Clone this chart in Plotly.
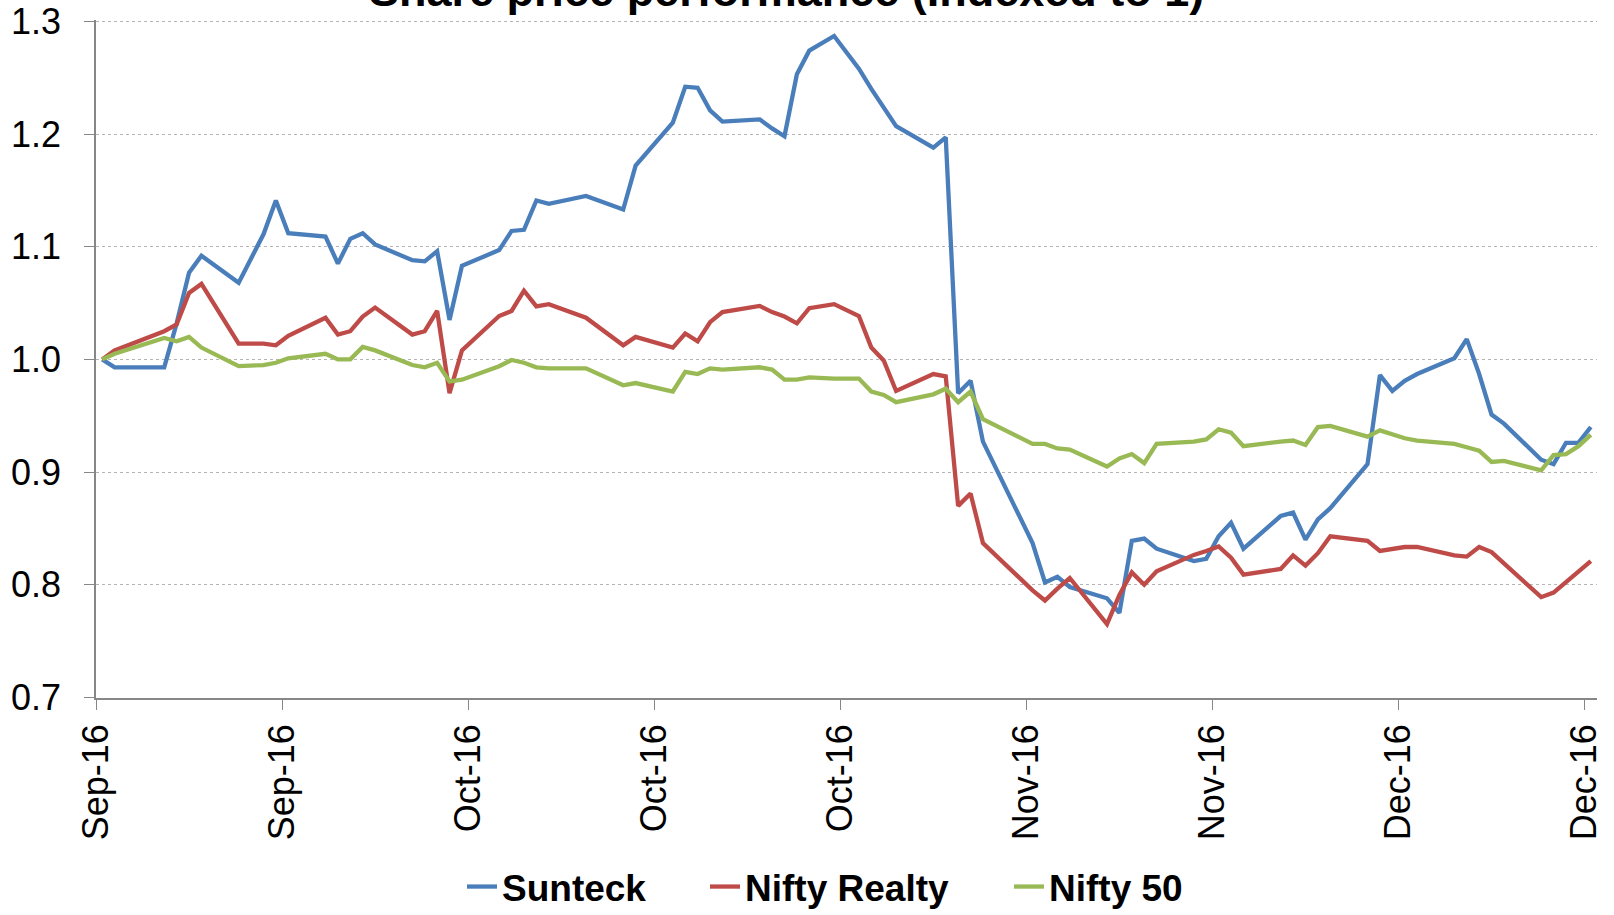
import pandas as pd
import plotly.graph_objects as go

# ---- data ----
dates = [
    "2016-09-01", "2016-09-02", "2016-09-06", "2016-09-07", "2016-09-08", "2016-09-09", "2016-09-12",
    "2016-09-14", "2016-09-15", "2016-09-16", "2016-09-19", "2016-09-20", "2016-09-21", "2016-09-22",
    "2016-09-23", "2016-09-26", "2016-09-27", "2016-09-28", "2016-09-29", "2016-09-30",
    "2016-10-03", "2016-10-04", "2016-10-05", "2016-10-06", "2016-10-07", "2016-10-10", "2016-10-13",
    "2016-10-14", "2016-10-17", "2016-10-18", "2016-10-19", "2016-10-20", "2016-10-21", "2016-10-24",
    "2016-10-25", "2016-10-26", "2016-10-27", "2016-10-28", "2016-10-30",
    "2016-11-01", "2016-11-02", "2016-11-03", "2016-11-04", "2016-11-07", "2016-11-08", "2016-11-09",
    "2016-11-10", "2016-11-11", "2016-11-15", "2016-11-16", "2016-11-17", "2016-11-18", "2016-11-21",
    "2016-11-22", "2016-11-23", "2016-11-24", "2016-11-25", "2016-11-28", "2016-11-29", "2016-11-30",
    "2016-12-01", "2016-12-02", "2016-12-05", "2016-12-06", "2016-12-07", "2016-12-08", "2016-12-09",
    "2016-12-12", "2016-12-13", "2016-12-14", "2016-12-15", "2016-12-16", "2016-12-19", "2016-12-20",
    "2016-12-21", "2016-12-22", "2016-12-23", "2016-12-26", "2016-12-27", "2016-12-28", "2016-12-29",
    "2016-12-30",
]

sunteck = [
    1.000, 0.993, 0.993, 1.032, 1.077, 1.092, 1.068, 1.111, 1.141, 1.112, 1.109, 1.085, 1.107, 1.112,
    1.102, 1.088, 1.087, 1.096, 1.035, 1.083,
    1.097, 1.114, 1.115, 1.141, 1.138, 1.145, 1.133, 1.172, 1.210, 1.242, 1.241, 1.221, 1.211, 1.213,
    1.205, 1.198, 1.253, 1.274, 1.287,
    1.258, 1.240, 1.223, 1.207, 1.188, 1.197, 0.970, 0.981, 0.927, 0.837, 0.802, 0.807, 0.798, 0.788,
    0.775, 0.839, 0.841, 0.832, 0.821, 0.823, 0.843,
    0.855, 0.832, 0.861, 0.864, 0.840, 0.858, 0.868, 0.907, 0.986, 0.972, 0.981, 0.987, 1.001, 1.018,
    0.987, 0.951, 0.943, 0.911, 0.907, 0.926, 0.926, 0.940,
]

nifty_realty = [
    1.000, 1.008, 1.025, 1.031, 1.059, 1.067, 1.014, 1.014, 1.0125, 1.021, 1.037, 1.022, 1.025, 1.038,
    1.046, 1.022, 1.025, 1.043, 0.970, 1.008,
    1.0385, 1.043, 1.061, 1.047, 1.049, 1.037, 1.0125, 1.020, 1.0105, 1.023, 1.016, 1.033, 1.042,
    1.0475, 1.042, 1.038, 1.032, 1.0455, 1.049,
    1.0385, 1.0105, 0.999, 0.972, 0.987, 0.985, 0.870, 0.881, 0.837, 0.795, 0.786, 0.7965, 0.806,
    0.765, 0.791, 0.811, 0.800, 0.812, 0.8265, 0.830, 0.834,
    0.824, 0.809, 0.814, 0.826, 0.817, 0.828, 0.843, 0.839, 0.830, 0.832, 0.8335, 0.8335, 0.826,
    0.825, 0.8335, 0.829, 0.819, 0.789, 0.793, 0.802, 0.811, 0.821,
]

nifty_50 = [
    1.000, 1.005, 1.019, 1.016, 1.020, 1.0105, 0.994, 0.995, 0.997, 1.001, 1.005, 1.000, 1.000, 1.011,
    1.008, 0.995, 0.993, 0.997, 0.9805, 0.982,
    0.994, 0.9995, 0.997, 0.993, 0.992, 0.992, 0.977, 0.979, 0.9715, 0.989, 0.987, 0.992, 0.991,
    0.993, 0.991, 0.982, 0.982, 0.984, 0.983,
    0.983, 0.9715, 0.9685, 0.962, 0.969, 0.974, 0.962, 0.9715, 0.947, 0.925, 0.925, 0.921, 0.920,
    0.905, 0.912, 0.916, 0.908, 0.925, 0.927, 0.929, 0.938,
    0.935, 0.923, 0.927, 0.928, 0.924, 0.940, 0.941, 0.9315, 0.937, 0.933, 0.930, 0.928, 0.925,
    0.922, 0.919, 0.909, 0.910, 0.9015, 0.915, 0.916, 0.923, 0.933,
]

series_names = ["Sunteck", "Nifty Realty", "Nifty 50"]
tick_dates = ["2016-09-01", "2016-09-16", "2016-10-01", "2016-10-16", "2016-10-31",
              "2016-11-15", "2016-11-30", "2016-12-15", "2016-12-30"]
tick_labels = ["Sep-16", "Sep-16", "Oct-16", "Oct-16", "Oct-16", "Nov-16", "Nov-16", "Dec-16", "Dec-16"]
y_ticks = [0.7, 0.8, 0.9, 1.0, 1.1, 1.2, 1.3]
title_text = "Share price performance (Indexed to 1)"

# ---- styling ----
colors = ["#4A7EBB", "#BE4B48", "#98B954"]
FONT = "Arial, 'Liberation Sans', sans-serif"
half_day = pd.Timedelta(hours=12)
x_dates = pd.to_datetime(dates)
tickvals = pd.to_datetime(tick_dates) - half_day
x_range = [pd.Timestamp("2016-09-01") - half_day, pd.Timestamp("2016-12-30") + half_day]

fig = go.Figure()
legend_ids = ["legend", "legend2", "legend3"]
for name, vals, col, lg in zip(series_names, [sunteck, nifty_realty, nifty_50], colors, legend_ids):
    fig.add_trace(go.Scatter(
        x=x_dates, y=vals, name=name, mode="lines",
        line=dict(color=col, width=4.3),
        legend=lg, showlegend=True,
    ))

axis_gray = "#878787"
W, H = 1614, 915
ml, mr, mt, mb = 96, 17, 20, 217

legend_common = dict(orientation="h", yref="container", yanchor="middle", y=1 - 887 / H,
                     xref="container", xanchor="left",
                     font=dict(family=FONT, size=37, color="black", weight="bold"),
                     bgcolor="rgba(0,0,0,0)", borderwidth=0, visible=True)

fig.update_layout(
    width=W, height=H,
    margin=dict(l=ml, r=mr, t=mt, b=mb),
    paper_bgcolor="white", plot_bgcolor="white",
    font=dict(family=FONT, color="black"),
    showlegend=True,
    legend=dict(**legend_common, x=462 / W),
    legend2=dict(**legend_common, x=705 / W),
    legend3=dict(**legend_common, x=1009 / W),
    xaxis=dict(
        type="date", range=x_range, tickvals=tickvals, ticktext=tick_labels,
        tickangle=-90, tickfont=dict(family=FONT, size=36, color="black"),
        showgrid=False, showline=True, linecolor=axis_gray, linewidth=1.5,
        ticks="outside", ticklen=10, tickcolor=axis_gray, tickwidth=1.3,
        ticklabelstandoff=0, zeroline=False, automargin=False,
    ),
    yaxis=dict(
        range=[0.6995, 1.3012], tickvals=y_ticks, tickformat=".1f",
        tickfont=dict(family=FONT, size=36, color="black"),
        showgrid=True, gridcolor="#b5b5b5", griddash="dot", gridwidth=1,
        showline=True, linecolor=axis_gray, linewidth=1.5,
        ticks="outside", ticklen=10, tickcolor=axis_gray, tickwidth=1.3,
        ticklabelstandoff=16, zeroline=False, automargin=False,
    ),
    annotations=[dict(
        text="<b>" + title_text + "</b>", font=dict(family=FONT, size=45, color="black"),
        xref="paper", x=(786 - ml) / (W - ml - mr), xanchor="center",
        yref="paper", y=1, yanchor="middle", yshift=30, showarrow=False,
    )],
)

fig.write_html("out.html", config={"displayModeBar": False},
               post_script="document.body.style.margin='0';document.body.style.overflow='hidden';")
